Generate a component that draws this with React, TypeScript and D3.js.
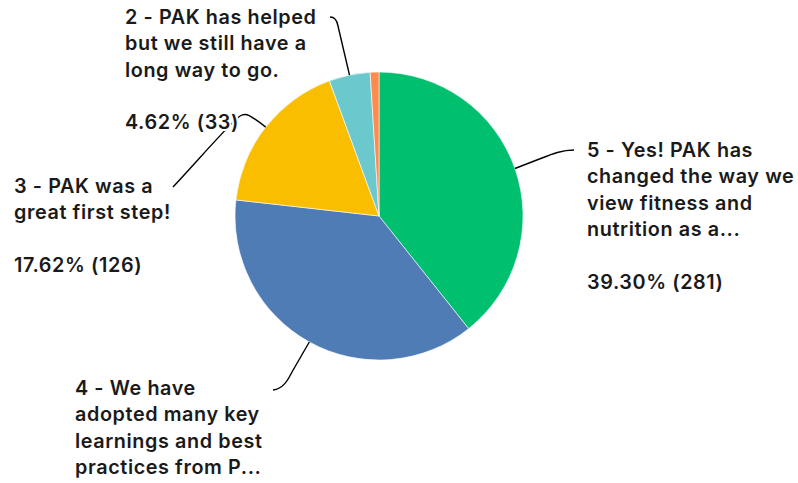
import React from "react";
import * as d3 from "d3";

const categories = [
  "5 - Yes! PAK has changed the way we view fitness and nutrition as a...",
  "4 - We have adopted many key learnings and best practices from P...",
  "3 - PAK was a great first step!",
  "2 - PAK has helped but we still have a long way to go.",
  "1",
];
const values = [281, 268, 126, 33, 7];
const labelLines = [
  ["5 - Yes! PAK has", "changed the way we", "view fitness and", "nutrition as a..."],
  ["4 - We have", "adopted many key", "learnings and best", "practices from P..."],
  ["3 - PAK was a", "great first step!"],
  ["2 - PAK has helped", "but we still have a", "long way to go."],
  [],
];
const colors = ["#00BF6F", "#507CB6", "#F9BE00", "#6BC8CD", "#FF8B4F"];

const W = 798;
const H = 483;
const cx = 379;
const cy = 216;
const R = 144;
const LH = 26.3;

// label layout: text origin (x, first baseline), whether percent shown, leader path start/bends
const layout = [
  { x: 587, y: 157, showLines: true, pctGap: 2, lead: (ex: number, ey: number) => `M574,150 C562,150 552,154 542,158 L${ex},${ey}` },
  { x: 75, y: 395, showLines: false, pctGap: 0, lead: (ex: number, ey: number) => `M273,390 C283,389 288,380 292,372 L${ex},${ey}` },
  { x: 14, y: 193, showLines: true, pctGap: 2, lead: (ex: number, ey: number) => `M173,187 C200,158 232,121 240,116 C246,112 250,115 ${ex},${ey}` },
  { x: 125, y: 24, showLines: true, pctGap: 2, lead: (ex: number, ey: number) => `M330,17 C334,17 337,20 338,26 L${ex},${ey}` },
  null,
];

export default function App() {
  const total = d3.sum(values);
  const pie = d3.pie<number>().sort(null).value((d) => d);
  const arcs = pie(values);
  const arc = d3.arc<d3.PieArcDatum<number>>().innerRadius(0).outerRadius(R);
  const edge = d3.arc<d3.PieArcDatum<number>>().innerRadius(R).outerRadius(R);

  return (
    <svg width={W} height={H} style={{ position: "absolute", left: 0, top: 0 }}>
      <rect width={W} height={H} fill="#fff" />
      <g transform={`translate(${cx},${cy})`}>
        {arcs.map((a, i) => (
          <path key={i} d={arc(a) || ""} fill={colors[i]} stroke="#fff" strokeWidth={0.6} />
        ))}
      </g>
      {arcs.map((a, i) => {
        const L = layout[i];
        if (!L) return null;
        const [ex, ey] = edge.centroid(a);
        return (
          <path
            key={"l" + i}
            d={L.lead(+(cx + ex).toFixed(1), +(cy + ey).toFixed(1))}
            fill="none"
            stroke="#000"
            strokeWidth={1.4}
          />
        );
      })}
      {arcs.map((a, i) => {
        const L = layout[i];
        if (!L) return null;
        const lines = labelLines[i];
        const pct = `${((values[i] / total) * 100).toFixed(2)}% (${values[i]})`;
        const pctY = L.y + LH * (lines.length - 1 + L.pctGap);
        return (
          <g
            key={"t" + i}
            fontFamily="Inter, 'Noto Sans', sans-serif"
            fontSize={19.8}
            fontWeight={600}
            letterSpacing={0.6}
            fill="#1a1a1a"
            stroke="#fff"
            strokeWidth={4}
            strokeLinejoin="round"
            style={{ paintOrder: "stroke" }}
          >
            {lines.map((t, j) => (
              <text key={j} x={L.x} y={L.y + j * LH}>
                {t}
              </text>
            ))}
            {L.showLines && (
              <text x={L.x} y={pctY}>
                {pct}
              </text>
            )}
          </g>
        );
      })}
    </svg>
  );
}
